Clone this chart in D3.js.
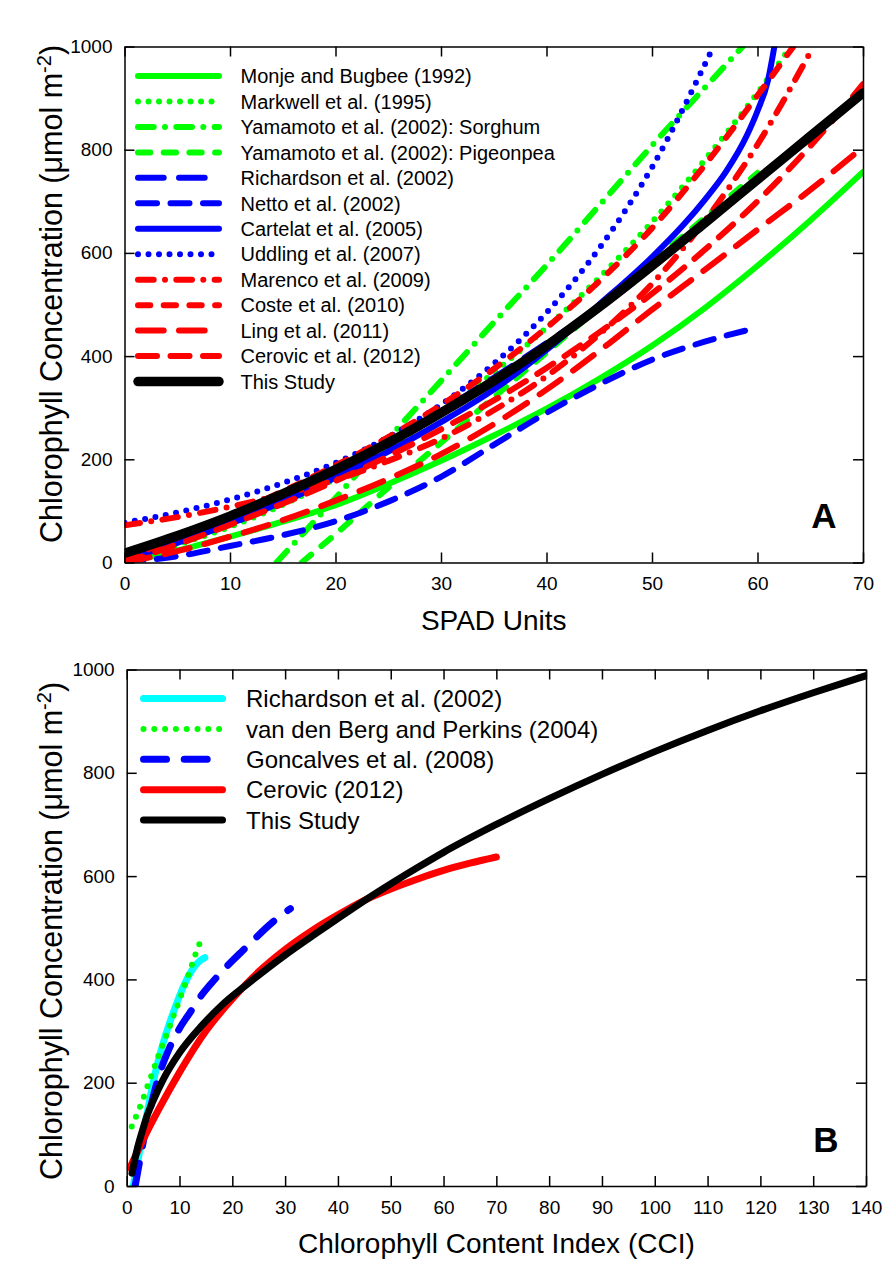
<!DOCTYPE html>
<html>
<head>
<meta charset="utf-8">
<script src="https://cdn.jsdelivr.net/npm/d3@7"></script>
<style>
  body { margin: 0; background: #fff; }
  text { font-family: "Liberation Sans", Arial, sans-serif; fill: #000; }
</style>
</head>
<body>
<script>
// ---------------- DATA ----------------
// Panel A : SPAD units vs chlorophyll (umol m-2), [SPAD, Chl]
const monje      = [[0,0],[5,23],[10,50],[15,79],[20,111],[25,152],[30,197],[35,246],[40,298],[45,356],[50,420],[55,493],[60,575],[65,663],[70,757]];
const markwell   = [[0,1],[5,34],[10,69],[15,112],[20,163],[25,222],[30,290],[35,368],[40,455],[45,552],[50,660],[55,780],[60,910],[63,995]];
const yamaSorg   = [[14.4,0],[20,125],[25,240],[30,352],[35,465],[40,576],[45,692],[50,808],[55,920],[58.6,1000]];
const yamaPigeon = [[16.8,0],[20,55],[25,145],[30,232],[35,320],[40,407],[45,495],[50,582],[55,668],[60,755]];
const richardson = [[0,5],[5,40],[10,75],[15,117],[20,165],[25,227],[30,293],[35,358],[40,425],[45,495]];
const netto      = [[0,0],[5,12],[10,32],[15,53],[20,80],[25,118],[30,166],[35,228],[40,290],[45,345],[50,393],[55,428],[60,455]];
const cartelat   = [[0,5],[5,38],[10,75],[15,118],[20,165],[25,215],[30,272],[35,335],[40,412],[45,500],[50,592],[53,655],[55,703],[57,757],[59,828],[60,875],[61,935],[61.6,1000]];
const uddling    = [[0,77],[5,97],[10,122],[15,154],[20,193],[25,243],[30,306],[35,385],[40,484],[45,609],[50,766],[55.8,999]];
const marenco    = [[0,72],[5,88],[10,108],[15,132],[20,160],[25,197],[30,240],[35,295],[40,361],[45,442],[50,540],[55,662],[60,810],[65.3,1000]];
const coste      = [[0,8],[5,48],[10,92],[15,138],[20,188],[25,243],[30,305],[35,375],[40,455],[45,545],[50,648],[55,770],[60,905],[63.4,1000]];
const ling       = [[0,0],[5,22],[10,50],[15,82],[20,120],[25,162],[30,210],[35,268],[40,335],[45,410],[50,490],[55,567],[60,645],[65,722],[70,805]];
const cerovicA   = [[0,0],[5,35],[10,73],[15,114],[20,158],[25,206],[30,258],[35,314],[40,377],[45,446],[50,521],[55,606],[60,700],[65,807],[70,927]];
const studyA     = [[0,18],[5,52],[10,90],[15,133],[20,180],[25,232],[30,290],[35,352],[40,420],[45,495],[50,575],[55,658],[60,742],[65,826],[70,910]];

// Panel B : CCI vs chlorophyll (umol m-2), [CCI, Chl]
const richardsonB = [[1.25,0],[2,42],[3,98],[4,148],[5,200],[6,243],[7,280],[8,312],[9,341],[10,368],[11,392],[12,412],[13,427],[14,437],[14.8,442]];
const vandenberg  = [[0.95,115],[2,140],[3,166],[4,195],[5,223],[6,252],[7,279],[8,305],[9,333],[10,360],[11,389],[12,418],[13,448],[14.2,480]];
const goncalves   = [[1.6,0],[2.4,45],[3.2,89],[4,130],[5,172],[6,210],[8,265],[10,305],[12,336],[14,367],[16,392],[18,415],[20,436],[22,456],[24,476],[26,496],[28,514],[31,537]];
const cerovicB    = [[0.6,35],[2,66],[4,108],[7,166],[10,220],[15,300],[20,362],[25,415],[30,458],[35,494],[40,525],[45,553],[50,575],[55,594],[60,611],[65,625],[70,637]];
const studyB      = [[1,25],[2,72],[3,108],[4,140],[5,165],[7,208],[10,258],[14,308],[18,350],[23,392],[30,447],[36,490],[42,532],[48,572],[55,616],[60,646],[70,700],[80,750],[90,797],[100,841],[110,882],[120,920],[130,955],[140,988]];

// tick labels
const ticksAx = [0,10,20,30,40,50,60,70];
const ticksBx = [0,10,20,30,40,50,60,70,80,90,100,110,120,130,140];
const ticksY  = [0,200,400,600,800,1000];

const labelsA = ["Monje and Bugbee (1992)","Markwell et al. (1995)","Yamamoto et al. (2002): Sorghum","Yamamoto et al. (2002): Pigeonpea","Richardson et al. (2002)","Netto et al. (2002)","Cartelat et al. (2005)","Uddling et al. (2007)","Marenco et al. (2009)","Coste et al. (2010)","Ling et al. (2011)","Cerovic et al. (2012)","This Study"];
const labelsB = ["Richardson et al. (2002)","van den Berg and Perkins (2004)","Goncalves et al. (2008)","Cerovic (2012)","This Study"];

// ---------------- STYLES ----------------
const GREEN = "#00ff00", BLUE = "#0000ff", RED = "#ff0000", CYAN = "#00ffff", BLACK = "#000000";
const DOT = "0,10.5", DASHDOT = "15.7,11.3,0,11.3", SHORT = "12.3,13.4", LONG = "25.7,15.3", MED = "19,13.5";

const seriesA = [
  {d: monje,      c: GREEN, dash: null,    w: 6},
  {d: markwell,   c: GREEN, dash: DOT,     w: 6},
  {d: yamaSorg,   c: GREEN, dash: DASHDOT, w: 6},
  {d: yamaPigeon, c: GREEN, dash: SHORT,   w: 6},
  {d: richardson, c: BLUE,  dash: LONG,    w: 6},
  {d: netto,      c: BLUE,  dash: MED,     w: 6},
  {d: cartelat,   c: BLUE,  dash: null,    w: 6},
  {d: uddling,    c: BLUE,  dash: DOT,     w: 6},
  {d: marenco,    c: RED,   dash: DASHDOT, w: 6},
  {d: coste,      c: RED,   dash: SHORT,   w: 6},
  {d: ling,       c: RED,   dash: LONG,    w: 6},
  {d: cerovicA,   c: RED,   dash: MED,     w: 6},
  {d: studyA,     c: BLACK, dash: null,    w: 9.5}
];
const seriesB = [
  {d: richardsonB, c: CYAN,  dash: null,        w: 7},
  {d: vandenberg,  c: GREEN, dash: "0,10.8",    w: 6},
  {d: goncalves,   c: BLUE,  dash: "23,17.7",   w: 7},
  {d: cerovicB,    c: RED,   dash: null,        w: 7},
  {d: studyB,      c: BLACK, dash: null,        w: 7}
];

// ---------------- DRAW ----------------
const svg = d3.select("body").append("svg").attr("width", 885).attr("height", 1261);
svg.append("rect").attr("width", 885).attr("height", 1261).attr("fill", "#fff");

function panel(cfg) {
  const {x, y, xticks, series, labels, legend, id, letter, letterPos, xTitle, xTitleY, yTitleY, xPad} = cfg;
  const g = svg.append("g");
  const [x0, x1] = x.range(), [y0, y1] = y.range();

  g.append("clipPath").attr("id", id).append("rect")
    .attr("x", x0).attr("y", y1).attr("width", x1 - x0).attr("height", y0 - y1);

  const line = d3.line().x(d => x(d[0])).y(d => y(d[1])).curve(d3.curveMonotoneX);
  const lines = g.append("g").attr("clip-path", `url(#${id})`);
  series.forEach(s => {
    lines.append("path").attr("d", line(s.d)).attr("fill", "none")
      .attr("stroke", s.c).attr("stroke-width", s.w)
      .attr("stroke-linecap", "round").attr("stroke-linejoin", "round")
      .attr("stroke-dasharray", s.dash);
  });

  // axes (ticks inward on all four sides)
  const axStyle = a => {
    a.selectAll("path.domain").attr("stroke", "#000").attr("stroke-width", 1.5);
    a.selectAll(".tick line").attr("stroke", "#000").attr("stroke-width", 1.5);
    a.selectAll(".tick text").attr("font-size", 19).attr("font-family", '"Liberation Sans", Arial, sans-serif').attr("fill", "#000");
  };
  g.append("g").attr("transform", `translate(0,${y0})`)
    .call(d3.axisBottom(x).tickValues(xticks).tickFormat(d3.format("d")).tickSize(-10).tickSizeOuter(0).tickPadding(xPad)).call(axStyle);
  g.append("g").attr("transform", `translate(0,${y1})`)
    .call(d3.axisTop(x).tickValues(xticks).tickFormat("").tickSize(-10).tickSizeOuter(0)).call(axStyle);
  g.append("g").attr("transform", `translate(${x0},0)`)
    .call(d3.axisLeft(y).tickValues(ticksY).tickFormat(d3.format("d")).tickSize(-10).tickSizeOuter(0).tickPadding(12)).call(axStyle);
  g.append("g").attr("transform", `translate(${x1},0)`)
    .call(d3.axisRight(y).tickValues(ticksY).tickFormat("").tickSize(-10).tickSizeOuter(0)).call(axStyle);

  // legend
  labels.forEach((lab, i) => {
    const s = series[i];
    const cy = legend.y0 + i * legend.dy;
    g.append("path").attr("d", `M${legend.lx0},${cy}H${legend.lx1}`)
      .attr("stroke", s.c).attr("stroke-width", s.w).attr("fill", "none")
      .attr("stroke-linecap", "round").attr("stroke-dasharray", s.dash);
    g.append("text").attr("x", legend.tx).attr("y", cy + legend.fs * 0.36)
      .attr("font-size", legend.fs).text(lab);
  });

  // panel letter
  g.append("text").attr("x", letterPos[0]).attr("y", letterPos[1]).attr("text-anchor", "middle")
    .attr("font-size", 35).attr("font-weight", "bold").text(letter);

  // axis titles
  g.append("text").attr("x", (x0 + x1) / 2).attr("y", xTitleY).attr("text-anchor", "middle")
    .attr("font-size", 28).text(xTitle);
  const yt = g.append("text").attr("transform", `translate(62,${yTitleY}) rotate(-90)`)
    .attr("text-anchor", "middle").attr("font-size", 30.5);
  yt.append("tspan").text("Chlorophyll Concentration (\u03bcmol m");
  yt.append("tspan").attr("font-size", 20).attr("dy", -11).text("-2");
  yt.append("tspan").attr("dy", 11).text(")");
}

panel({
  id: "clipA",
  x: d3.scaleLinear().domain([0, 70]).range([124.5, 863]),
  y: d3.scaleLinear().domain([0, 1000]).range([562.5, 46.5]),
  xticks: ticksAx, series: seriesA, labels: labelsA,
  legend: {y0: 76, dy: 25.46, lx0: 138, lx1: 219, tx: 240.5, fs: 20},
  letter: "A", letterPos: [824, 528],
  xTitle: "SPAD Units", xTitleY: 630, yTitleY: 294, xPad: 14
});

panel({
  id: "clipB",
  x: d3.scaleLinear().domain([0, 140]).range([126.7, 866]),
  y: d3.scaleLinear().domain([0, 1000]).range([1186, 669.5]),
  xticks: ticksBx, series: seriesB, labels: labelsB,
  legend: {y0: 698.5, dy: 30.4, lx0: 143.5, lx1: 222.5, tx: 246, fs: 24},
  letter: "B", letterPos: [826, 1152],
  xTitle: "Chlorophyll Content Index (CCI)", xTitleY: 1253, yTitleY: 931, xPad: 15
});
</script>
</body>
</html>
